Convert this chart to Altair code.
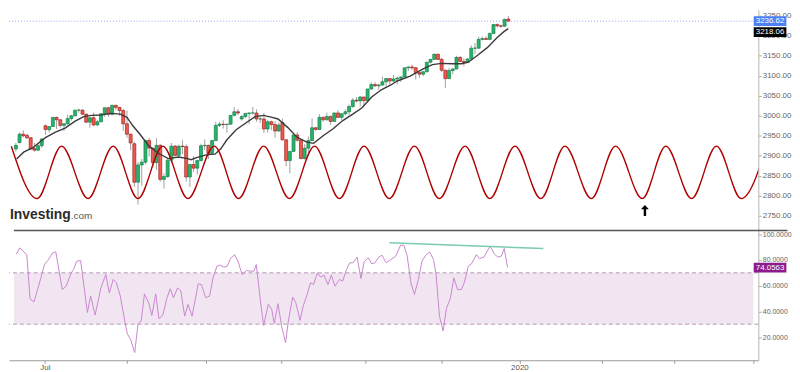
import altair as alt
import pandas as pd

# ---- candles (trading-day index 0 = 19 Jun 2019 ... 133 = 27 Dec 2019) ----
opens = [2917,2933,2954,2951,2945,2918,2914,2925,2975,2965,2973,2996,2990,2976,2980,2993,3000,3014,3014,3004,
         2984,2995,2977,2985,3005,3020,3004,3026,3021,3013,2980,2954,2930,2834,2877,2884,2938,2919,2883,2926,
         2841,2848,2889,2924,2901,2924,2923,2847,2878,2869,2888,2925,2926,2906,2938,2976,2979,2978,2979,3001,
         3010,2992,2998,3006,3007,3007,2992,2992,2967,2985,2978,2962,2983,2940,2888,2911,2952,2939,2893,2919,
         2938,2970,2966,2996,2990,2998,2986,3007,2996,3005,3010,3023,3039,3037,3047,3038,3067,3078,3075,3077,
         3085,3093,3087,3092,3094,3097,3120,3122,3120,3108,3104,3110,3134,3141,3154,3141,3114,3093,3113,3117,
         3146,3136,3133,3142,3169,3169,3191,3193,3191,3206,3228,3225,3224,3242]
highs = [2932,2958,2964,2955,2947,2932,2930,2944,2978,2974,2996,2998,2991,2981,3003,3002,3015,3018,3016,3006,
         2997,3008,2990,3006,3020,3022,3028,3028,3022,3017,3013,2955,2935,2884,2892,2939,2945,2920,2944,2930,
         2856,2893,2932,2927,2928,2939,2928,2880,2899,2890,2930,2941,2928,2939,2985,2985,2989,2980,3001,3021,
         3017,3002,3006,3008,3022,3016,2999,3007,2990,2988,2987,2983,2993,2940,2911,2953,2959,2942,2929,2948,
         2993,2972,3004,2998,3008,3001,3008,3014,3005,3016,3028,3044,3047,3050,3047,3067,3084,3084,3079,3098,
         3094,3093,3102,3098,3099,3121,3124,3128,3122,3111,3112,3134,3142,3155,3155,3145,3115,3120,3119,3150,
         3149,3143,3144,3176,3182,3198,3198,3199,3208,3230,3231,3227,3243,3250]
lows = [2911,2931,2946,2942,2914,2910,2912,2920,2952,2958,2972,2967,2970,2962,2978,2988,2998,3008,3002,2982,
        2970,2974,2975,2984,2997,2997,3001,3014,3000,2962,2945,2914,2822,2778,2825,2878,2898,2872,2865,2835,
        2818,2845,2888,2899,2898,2904,2835,2822,2860,2853,2886,2914,2892,2904,2937,2972,2968,2958,2977,2998,
        3002,2988,2994,2979,3003,2985,2982,2957,2958,2964,2945,2960,2938,2874,2856,2909,2935,2892,2891,2906,
        2937,2962,2965,2985,2988,2977,2986,2995,2990,3001,3001,3020,3033,3023,3024,3035,3065,3072,3065,3075,
        3073,3078,3085,3078,3084,3096,3112,3114,3091,3095,3099,3109,3131,3140,3140,3109,3070,3092,3103,3116,
        3135,3124,3132,3138,3154,3168,3188,3190,3189,3204,3221,3220,3222,3234]
closes = [2926,2954,2950,2945,2917,2914,2925,2942,2966,2973,2996,2990,2976,2980,2993,3000,3014,3014,3004,2984,
          2995,2977,2985,3005,3020,3004,3026,3021,3013,2980,2954,2932,2834,2877,2884,2938,2919,2883,2926,2841,
          2848,2889,2924,2901,2924,2923,2847,2878,2869,2888,2925,2926,2906,2938,2976,2979,2978,2979,3001,3010,
          3007,2998,3006,3007,3007,2992,2992,2967,2985,2978,2962,2977,2940,2888,2911,2952,2939,2893,2919,2938,
          2970,2966,2996,2990,2998,2986,3007,2996,3005,3010,3023,3039,3037,3047,3038,3067,3078,3075,3077,3085,
          3093,3087,3092,3094,3097,3120,3122,3120,3108,3104,3110,3134,3141,3154,3141,3114,3093,3113,3117,3146,
          3136,3133,3142,3169,3169,3191,3193,3191,3206,3228,3225,3224,3241,3236.62]

# ---- moving average ----
ma_pos = [0.2,2.1,4.7,6.4,8.1,10.7,13.3,15.9,18.3,20.4,23.0,25.6,28.2,30.0,31.6,33.4,36.0,38.7,41.2,43.9,
          46.5,47.3,49.0,51.7,53.8,55.4,57.0,59.5,62.1,64.6,66.9,69.2,70.8,73.4,76.0,78.6,80.4,83.0,85.6,88.3,
          91.0,93.5,96.1,98.7,101.3,103.0,106.5,110.0,112.5,115.0,117.8,120.4,122.2,124.8,127.4,130.0,131.9,133.0]
ma_val = [2892,2909,2921,2934,2946,2959,2969,2986,2998,3001,3002,3006,3004,2996,2975,2955,2924,2905,2893,2897,
          2893,2890,2896,2903,2904,2918,2940,2965,2982,2998,3001,2996,2992,2971,2946,2934,2931,2950,2967,2988,
          3004,3020,3047,3065,3077,3087,3099,3117,3128,3131,3130,3130,3134,3152,3171,3196,3211,3218.06]

# ---- cycle line: peaks and troughs ----
wave_pos = [-1.23,5.74,12.35,19.50,26.29,32.98,39.69,46.48,53.60,60.13,66.92,73.89,80.68,87.39,94.05,100.86,
            107.65,114.36,121.33,128.02,134.80,141.78,148.30,155.43,161.96,169.19,175.54,182.51,189.22,195.90,202.80]
wave_val = [2924,2793,2924,2793,2924,2793,2924,2793,2924,2793,2924,2793,2924,2793,2924,2793,
            2924,2793,2924,2793,2924,2793,2924,2793,2924,2793,2924,2793,2924,2793,2924]
arrow_pos = [169.9]
arrow_val = [2763]

# ---- RSI ----
rsi_pos = [0.17,1.04,2.96,3.83,4.87,6.0,7.75,8.62,9.92,10.79,12.53,13.58,14.97,15.58,16.45,17.49,19.32,20.19,21.41,22.98,
           24.28,25.24,26.28,27.15,28.2,29.5,30.1,30.98,32.1,33.0,33.86,34.73,35.86,36.73,37.77,38.64,39.69,40.82,41.69,42.56,
           43.69,44.56,45.6,46.48,47.6,49.26,50.13,51.26,52.31,53.26,54.3,55.18,56.2,57.1,57.96,59.1,60.14,61.1,62.3,63.45,
           64.3,64.93,66.06,66.92,68.2,69.1,69.8,70.8,71.8,72.85,73.6,74.75,75.6,76.76,77.6,78.67,79.56,80.4,81.46,82.3,
           83.2,84.3,85.2,86.2,87.4,88.25,89.3,90.16,91.04,92.17,93.2,94.07,95.2,96.1,96.94,98.0,98.88,100.0,101.3,102.6,
           103.9,104.8,105.7,106.7,107.65,108.7,109.7,110.7,111.75,112.8,113.5,114.4,115.4,116.3,117.4,118.3,119.3,120.3,121.1,122.2,
           123.05,124.4,125.2,126.4,128.1,129.2,130.2,131.1,131.9,132.8]
rsi_val = [84.8,89.4,84.2,49.8,47.2,58.3,76.5,79.6,85.5,86.3,57.0,59.6,70.0,72.6,79.1,79.6,39.1,52.0,37.1,58.3,
           68.7,54.4,64.8,62.2,52.0,31.2,22.6,18.2,7.9,30.4,32.5,53.6,46.7,36.8,53.6,34.3,37.1,50.6,57.6,50.6,
           58.3,55.8,36.3,45.4,36.3,61.4,60.9,50.6,51.9,66.1,75.2,76.0,74.4,75.2,81.1,84.2,77.8,68.7,71.8,71.3,
           71.3,76.5,48.0,29.0,45.6,41.6,30.5,46.0,28.0,15.5,32.4,51.1,46.7,33.0,44.1,53.2,62.2,60.9,70.0,66.6,
           68.2,60.9,68.2,59.6,64.8,63.5,72.6,77.8,77.8,82.2,65.6,78.6,81.7,77.0,77.8,82.2,83.7,77.8,80.4,83.0,
           91.5,91.5,83.0,62.2,53.2,64.8,79.1,83.7,86.3,80.4,68.7,36.3,24.7,42.3,50.6,66.1,57.0,57.0,62.2,75.2,
           77.0,84.2,81.1,82.2,90.7,84.8,82.2,83.0,88.9,74.06]
trend_pos = [100.9, 142.5]
trend_val = [93.5, 88.9]
rsi_levels = [30, 70]

# ---- axes / labels ----
price_ticks = [2750, 2800, 2850, 2900, 2950, 3000, 3050, 3100, 3150, 3200, 3250]
rsi_ticks = [20, 40, 60, 80, 100]
month_pos = [7.83, 30.0, 51.4, 71.8, 94.3, 114.9, 136.0, 158.2, 177.8, 199.2]
month_labels = ["Jul", "", "", "", "", "", "2020", "", "", ""]
last_price = 3236.62
last_ma = 3218.06
last_rsi = 74.0563

X_DOM = [-0.52, 199.2]
SPLIT = 223          # pixel row where the RSI pane begins
FONT = "Liberation Sans"
BOX_X = X_DOM[1] + 4.5
SEP_X2 = X_DOM[1] + 9.2

GREEN, GREEN_D = "#27b36c", "#15804a"
RED, RED_D = "#ef5b4c", "#9e1f1f"

xscale = alt.Scale(domain=X_DOM, nice=False, zero=False)
pscale = alt.Scale(domain=[2712.9, 3264.9], range=[SPLIT, 0], nice=False, zero=False)
rscale = alt.Scale(domain=[1.9, 102.9], range=[{"expr": "height"}, SPLIT], nice=False, zero=False)

xaxis = alt.Axis(values=month_pos, grid=False, title=None, labelFontSize=8, labelColor="#555",
                 labelFont=FONT, tickColor="#999", tickSize=3, domainColor="#999", labelPadding=0,
                 labelFlush=False, labelOverlap=False,
                 labelExpr="datum.value < 10 ? '" + month_labels[0] + "' : (abs(datum.value - "
                           + str(month_pos[6]) + ") < 1 ? '" + month_labels[6] + "' : '')")
price_axis = alt.Axis(orient="right", values=price_ticks, format=".2f", grid=False, title=None,
                      labelFontSize=8, labelColor="#666", labelFont=FONT, tickColor="#aaa", tickSize=3,
                      domainColor="#b5b5b5", labelPadding=1, labelOverlap=False)
rsi_axis = alt.Axis(orient="right", values=rsi_ticks, format=".4f", grid=False, title=None,
                    labelFontSize=7, labelColor="#666", labelFont=FONT, tickColor="#aaa", tickSize=3,
                    domainColor="#b5b5b5", labelPadding=1, labelOverlap=False)

candles = pd.DataFrame({"i": list(range(len(closes))), "o": opens, "h": highs, "l": lows, "c": closes})
ma_df = pd.DataFrame({"i": ma_pos, "v": ma_val})
wave_df = pd.DataFrame({"i": wave_pos, "v": wave_val})
arrow_df = pd.DataFrame({"i": arrow_pos, "v": arrow_val})
rsi_df = pd.DataFrame({"i": rsi_pos, "r": rsi_val})
trend_df = pd.DataFrame({"i": trend_pos, "r": trend_val})
lev_df = pd.DataFrame({"r": rsi_levels})


def X(f="i:Q"):
    return alt.X(f, scale=xscale, axis=xaxis)


def XD(v):
    return alt.XDatum(v, type="quantitative", scale=xscale, axis=xaxis)


def YP(f, axis=None):
    return alt.Y(f, scale=pscale, axis=axis)


def YR(f, axis=None):
    return alt.Y(f, scale=rscale, axis=axis)


up = alt.datum.c >= alt.datum.o

# ---------------- price pane ----------------
last_rule = alt.Chart(pd.DataFrame({"v": [last_price]})).mark_rule(
    color="#8ea6f2", strokeDash=[1, 2], strokeWidth=1).encode(y=YP("v:Q", price_axis))

wicks = alt.Chart(candles).mark_rule(color="#a0a0a0", strokeWidth=1).encode(
    x=X(), y=YP("l:Q"), y2="h:Q")

bodies = alt.Chart(candles).mark_bar(size=3, strokeWidth=0.7).encode(
    x=X(), y=YP("o:Q"), y2="c:Q",
    fill=alt.condition(up, alt.value(GREEN), alt.value(RED)),
    stroke=alt.condition(up, alt.value(GREEN_D), alt.value(RED_D)))

ma_line = alt.Chart(ma_df).mark_line(color="#3a3a3a", strokeWidth=1.4).encode(x=X(), y=YP("v:Q"))

wave = alt.Chart(wave_df).mark_line(color="#b00000", strokeWidth=1.4, interpolate="monotone",
                                    clip=True).encode(x=X(), y=YP("v:Q"))

ARROW = "M0,-1L0.72,-0.25L0.22,-0.25L0.22,1L-0.22,1L-0.22,-0.25L-0.72,-0.25Z"
arrow = alt.Chart(arrow_df).mark_point(shape=ARROW, size=121, filled=True, opacity=1, color="#000").encode(
    x=X(), y=YP("v:Q"))

logo1 = alt.Chart(pd.DataFrame({"t": ["Investing"]})).mark_text(
    font=FONT, fontSize=14, fontWeight="bold", color="#2b2b2b", align="left", baseline="alphabetic").encode(
    x=alt.value(1), y=alt.value(211), text="t:N")
logo2 = alt.Chart(pd.DataFrame({"t": [".com"]})).mark_text(
    font=FONT, fontSize=10, color="#555", align="left", baseline="alphabetic").encode(
    x=alt.value(62.5), y=alt.value(211), text="t:N")

BOX = "M-1,-0.3L1,-0.3L1,0.3L-1,0.3Z"


def value_box(v, txt, fill, yfn, yoff=0):
    d = pd.DataFrame({"v": [v], "t": [txt]})
    box = alt.Chart(d).mark_point(shape=BOX, size=1089, filled=True, opacity=1, color=fill,
                                  strokeWidth=0, yOffset=yoff).encode(x=XD(BOX_X), y=yfn("v:Q"))
    lab = alt.Chart(d).mark_text(font=FONT, fontSize=8, color="white", align="center",
                                 baseline="middle", yOffset=yoff).encode(
        x=XD(BOX_X), y=yfn("v:Q"), text="t:N")
    return [box, lab]


# ---------------- RSI pane ----------------
band = alt.Chart(pd.DataFrame({"a": [rsi_levels[0]], "b": [rsi_levels[1]],
                               "x0": [X_DOM[0]], "x1": [X_DOM[1]]})).mark_rect(color="#f1e5f2").encode(
    x=X("x0:Q"), x2="x1:Q", y=YR("a:Q", rsi_axis), y2="b:Q")
levels = alt.Chart(lev_df).mark_rule(color="#b39ab4", strokeDash=[4, 3], strokeWidth=1).encode(y=YR("r:Q"))
rsi_line = alt.Chart(rsi_df).mark_line(color="#c987cf", strokeWidth=1).encode(x=X(), y=YR("r:Q"))
trend = alt.Chart(trend_df).mark_line(color="#7ccbb0", strokeWidth=1.5).encode(x=X(), y=YR("r:Q"))
sep = alt.Chart(pd.DataFrame({"x0": [X_DOM[0]], "x1": [SEP_X2]})).mark_rule(
    color="#555", strokeWidth=1.5).encode(x=X("x0:Q"), x2="x1:Q", y=alt.value(SPLIT))

chart = alt.layer(
    band, levels, rsi_line, trend, sep,
    *value_box(last_rsi, f"{last_rsi:.4f}", "#8c1c8c", YR),
    last_rule, wicks, bodies, ma_line, wave, arrow, logo1, logo2,
    *value_box(last_price, f"{last_price:.2f}", "#4c7ff0", YP),
    *value_box(last_ma, f"{last_ma:.2f}", "#000000", YP, 3.6),
).resolve_scale(y="independent").properties(
    width=792, height=365, padding=0,
    autosize=alt.AutoSizeParams(type="fit", contains="padding"),
).configure_view(stroke=None)

chart.save("out.html", embed_options={"renderer": "svg", "actions": False})
